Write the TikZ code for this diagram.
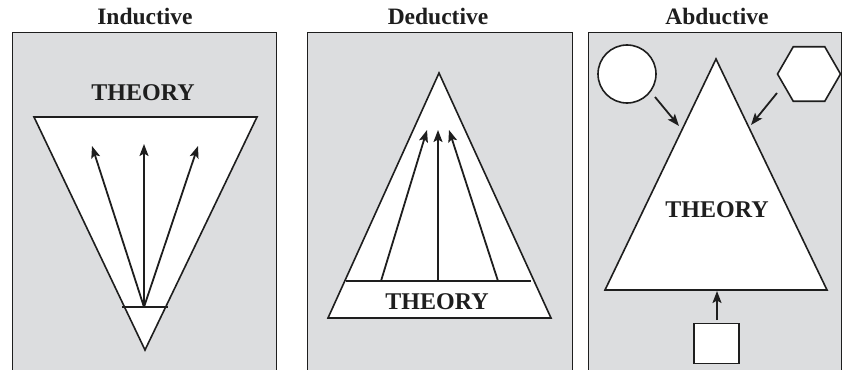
\documentclass[tikz,border=0pt]{standalone}
\usepackage{fontspec}
\setmainfont{Liberation Serif}
\usetikzlibrary{arrows.meta,shapes.geometric}
\definecolor{panelgray}{RGB}{220,221,223}
\definecolor{inkc}{RGB}{30,30,30}
\tikzset{
  panel/.style={fill=panelgray,draw=inkc,line width=1pt},
  shapeline/.style={draw=inkc,fill=white,line width=1.6pt,line join=miter},
  arr/.style={draw=inkc,line width=1.8pt,-{Stealth[length=12pt,width=9pt,inset=2.5pt]}},
  ttl/.style={font=\bfseries\fontsize{23.5}{26}\selectfont,text=inkc,inner sep=0pt},
  thy/.style={font=\bfseries\fontsize{24}{26}\selectfont,text=inkc,inner sep=0pt}
}
\begin{document}
\begin{tikzpicture}[x=1pt,y=-1pt]
\useasboundingbox (0,0) rectangle (842,369);
% panels
\fill[white] (0,0) rectangle (842,369);
\path[panel] (12,375) -- (12,33) -- (276,33) -- (276,375);
\path[panel] (307,375) -- (307,33) -- (572,33) -- (572,375);
\path[panel] (588,375) -- (588,33) -- (841,33) -- (841,375);
\node[ttl] (t1) at (145,16) {Inductive};
\node[ttl] (t2) at (438,16) {Deductive};
\node[ttl] (t3) at (717,16) {Abductive};
% Inductive
\coordinate (ia) at (34,117);
\coordinate (ib) at (257,117);
\coordinate (ic) at (145,350);
\path[shapeline] (ia) -- (ib) -- (ic) -- cycle;
\coordinate (il1) at (122,307);
\coordinate (il2) at (168,307);
\draw[inkc,line width=1.4pt] (il1) -- (il2);
\node[thy] (th1) at (143,93) {THEORY};
\coordinate (is) at (144,307);
\coordinate (ie1) at (92,146);
\coordinate (ie2) at (144,144);
\coordinate (ie3) at (198,146);
\draw[arr] (is) -- (ie1);
\draw[arr] (is) -- (ie2);
\draw[arr] (is) -- (ie3);
% Deductive
\coordinate (da) at (439,73);
\coordinate (db) at (328,318);
\coordinate (dc) at (551,318);
\path[shapeline] (da) -- (dc) -- (db) -- cycle;
\coordinate (dl1) at (346,281);
\coordinate (dl2) at (531,281);
\draw[inkc,line width=1.4pt] (dl1) -- (dl2);
\node[thy] (th2) at (437,302) {THEORY};
\coordinate (ds1) at (381,281);
\coordinate (ds2) at (438,281);
\coordinate (ds3) at (498,281);
\coordinate (de1) at (427,130);
\coordinate (de2) at (438,130);
\coordinate (de3) at (449,130);
\draw[arr] (ds1) -- (de1);
\draw[arr] (ds2) -- (de2);
\draw[arr] (ds3) -- (de3);
% Abductive
\coordinate (aa) at (716,59);
\coordinate (ab) at (605,290);
\coordinate (ac) at (827,290);
\path[shapeline] (aa) -- (ac) -- (ab) -- cycle;
\node[thy] (th3) at (717,210) {THEORY};
\node[circle,shapeline,minimum size=58pt,inner sep=0pt] (circ) at (627,74) {};
\node[regular polygon,regular polygon sides=6,shapeline,minimum size=63pt,inner sep=0pt] (hex) at (809,74) {};
\node[rectangle,shapeline,minimum width=45pt,minimum height=40pt,inner sep=0pt] (sq) at (716.5,343.5) {};
\coordinate (c1s) at (655,97);
\coordinate (c1e) at (679,126);
\coordinate (h1s) at (777,93);
\coordinate (h1e) at (751,125);
\coordinate (s1s) at (717,320);
\coordinate (s1e) at (717,291);
\draw[arr] (c1s) -- (c1e);
\draw[arr] (h1s) -- (h1e);
\draw[arr] (s1s) -- (s1e);
\end{tikzpicture}
\end{document}
